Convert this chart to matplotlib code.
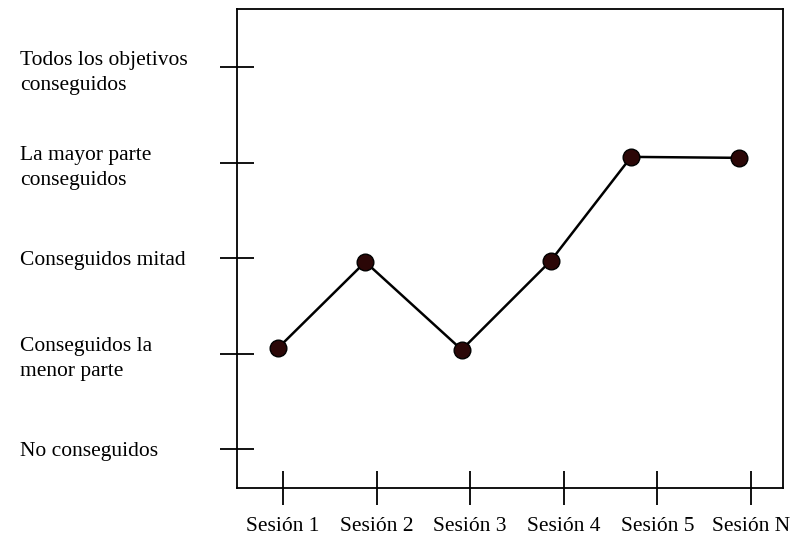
import numpy as np
import matplotlib.pyplot as plt

# niveles de logro (eje y) y sesiones (eje x)
niveles = ["No conseguidos", "Conseguidos la\nmenor parte", "Conseguidos mitad",
           "La mayor parte\nconseguidos", "Todos los objetivos\nconseguidos"]
sesiones = ["Sesión 1", "Sesión 2", "Sesión 3", "Sesión 4", "Sesión 5", "Sesión N"]

# puntos tal como estan dibujados (ligeramente desplazados de las marcas)
punto_x = [0.95, 1.88, 2.91, 3.86, 4.72, 5.87]
punto_y = [1.06, 1.96, 1.04, 1.97, 3.06, 3.05]

plt.rcParams['font.family'] = ['Liberation Serif', 'DejaVu Serif']

fig = plt.figure(figsize=(7.92, 5.41), dpi=100)
ax = fig.add_axes([0.2992, 0.098, 0.6894, 0.885])

ax.plot(punto_x, punto_y, color='black', lw=1.8, zorder=2)
ax.plot(punto_x, punto_y, 'o', ms=12, mfc='#2b0707', mec='black', mew=1, zorder=3)

ax.set_xlim(0.509, 6.342)
ax.set_ylim(-0.408, 4.607)

ax.set_xticks(np.arange(1, len(sesiones) + 1))
ax.set_xticklabels(sesiones, fontsize=15.5)
ax.set_yticks(np.arange(len(niveles)))
ax.set_yticklabels(niveles, fontsize=15.5, ha='left', linespacing=1.45)

ax.tick_params(axis='both', direction='inout', length=24, width=1.3, color='black')
ax.tick_params(axis='x', pad=9)
ax.tick_params(axis='y', pad=144)

for s in ax.spines.values():
    s.set_linewidth(1.3)

fig.savefig('out.png', dpi=100)
